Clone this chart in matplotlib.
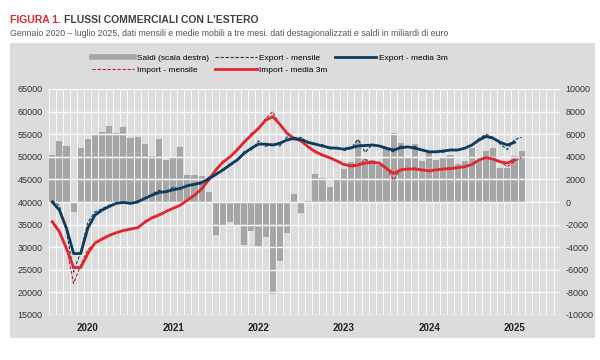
import numpy as np
import matplotlib
matplotlib.use("Agg")
import matplotlib.pyplot as plt
from matplotlib.patches import Rectangle
from matplotlib.lines import Line2D

plt.rcParams['font.family'] = ['Liberation Sans Narrow', 'Liberation Sans', 'DejaVu Sans']
plt.rcParams['axes.unicode_minus'] = False

# Monthly data, Jan 2020 - Jul 2025 (millions of euro)
years = ['2020', '2021', '2022', '2023', '2024', '2025']

saldi = [4200, 5400, 4950, -900, 4800, 5600, 6000, 6200, 6700, 6100, 6600, 5700,
         5750, 5100, 4100, 5600, 3700, 4000, 4900, 2400, 2400, 2300, 900, -2900,
         -2000, -1800, -2000, -3800, -2600, -3900, -3100, -8100, -5200, -2700, 700, -950,
         100, 2500, 2100, 1300, 2000, 2900, 3500, 5400, 3800, 3700, 3300, 4800,
         6100, 5200, 3900, 5100, 3600, 4300, 3750, 3900, 4200, 3400, 3600, 4750,
         3600, 4500, 4750, 3050, 3050, 4100, 4500]

export_m = [40300, 39200, 33500, 24500, 29000, 35500, 37800, 38500, 39300, 39600, 40100, 39500,
            40300, 40600, 41700, 42600, 42000, 43300, 42800, 43700, 44100, 44000, 45500, 46300,
            47000, 48600, 49100, 51200, 51500, 53500, 52300, 52900, 52400, 54400, 53700, 54300,
            53000, 52600, 52700, 51700, 52100, 51400, 51800, 53900, 51000, 52800, 52300, 51700,
            51100, 52400, 52000, 52300, 51500, 50900, 51300, 51000, 51700, 51400, 52000, 52500,
            54000, 55000, 54300, 52800, 51600, 53800, 54300]

export_3m = [40000, 38200, 34200, 28600, 28600, 34200, 37100, 38200, 39000, 39700, 39900, 39700,
             40000, 40800, 41500, 42100, 42300, 42700, 43000, 43600, 43900, 44300, 45100, 46100,
             47100, 48200, 49300, 50800, 51900, 52800, 52800, 52600, 53000, 53700, 54100, 53800,
             53200, 52800, 52400, 52000, 51900, 51700, 52000, 52400, 52500, 52600, 52400, 51900,
             51500, 52000, 52200, 51900, 51500, 51100, 51100, 51300, 51500, 51500, 51900, 52600,
             53700, 54500, 54100, 53200, 52600, 53200]

import_m = [36000, 33800, 30000, 22000, 26000, 29500, 30800, 32000, 32500, 33300, 33600, 34200,
            34100, 35800, 36400, 37300, 37800, 38700, 39200, 40500, 41600, 42700, 45300, 46800,
            49000, 49800, 51800, 53000, 55200, 56000, 58500, 60000, 57000, 55500, 53800, 53600,
            52000, 51300, 50200, 49900, 49000, 48400, 47700, 48000, 49400, 48600, 48800, 47600,
            44800, 47300, 47200, 47500, 47000, 46900, 47200, 47200, 47600, 47500, 48000, 48200,
            49400, 49900, 49300, 48800, 47800, 49000, 49900]

import_3m = [35600, 33400, 29700, 25500, 25500, 28600, 30900, 31800, 32600, 33200, 33700, 34000,
             34300, 35500, 36500, 37100, 37900, 38600, 39300, 40400, 41500, 42900, 44900, 47100,
             48800, 50000, 51500, 53300, 54800, 56300, 58100, 58900, 57200, 55200, 54100, 53500,
             52200, 51100, 50400, 49800, 49100, 48300, 48000, 48200, 48600, 48800, 48600, 47400,
             46300, 47100, 47300, 47300, 47100, 46900, 47100, 47300, 47400, 47600, 47800, 48300,
             49300, 49800, 49500, 48900, 48600, 49300]

navy = '#0f3b5f'
red = '#e0262f'
red_dash = '#c0202a'
bar_gray = '#a6a6a6'
panel = '#dcdcdc'

fig = plt.figure(figsize=(6, 3.6), dpi=100)
fig.patch.set_facecolor('white')

# grey panel behind legend and chart
fig.add_artist(Rectangle((10 / 600, 1 - 338 / 360), 585 / 600, 295 / 360,
                         transform=fig.transFigure, facecolor=panel,
                         edgecolor='none', zorder=-5))

t1 = fig.text(10 / 600, 1 - 20 / 360, 'FIGURA 1.', color=red, fontsize=7.5,
              fontweight='bold', va='center')
fig.canvas.draw()
bb = t1.get_window_extent()
fig.text((bb.x1 + 3) / 600, 1 - 20 / 360, "FLUSSI COMMERCIALI CON L'ESTERO", color='#404040',
         fontsize=7.5, fontweight='bold', va='center')
fig.text(10 / 600, 1 - 33 / 360,
         'Gennaio 2020 \u2013 luglio 2025, dati mensili e medie mobili a tre mesi. '
         'dati destagionalizzati e saldi in miliardi di euro',
         color='#555555', fontsize=6.3, va='center')

ax2 = fig.add_axes([48 / 600, 1 - 315 / 360, 512 / 600, 226 / 360])
ax = ax2.twinx()
ax2.set_facecolor(panel)
ax.patch.set_visible(False)

x = np.arange(len(saldi))

# grid
for v in range(15000, 65001, 5000):
    ax.axhline(v, color='white', lw=1.0, zorder=0)
for m in np.arange(-0.5, 72, 1):
    ax2.axvline(m, color='white', lw=0.7, alpha=0.85, zorder=0)

ax2.bar(x, saldi, width=0.85, color=bar_gray, zorder=1)
ax2.set_ylim(-10000, 10000)

ax.plot(x, export_m, color=navy, lw=0.8, ls=(0, (3, 1.5)), zorder=3)
ax.plot(x, import_m, color=red_dash, lw=0.8, ls=(0, (3, 1.5)), zorder=3)
ax.plot(x[:len(import_3m)], import_3m, color=red, lw=2.0, zorder=4)
ax.plot(x[:len(export_3m)], export_3m, color=navy, lw=2.0, zorder=5)
ax.set_ylim(15000, 65000)

ax.set_xlim(-0.6, 71.4)
ax2.set_xlim(-0.6, 71.4)

# lines on the left scale, balance on the right scale
ax.yaxis.tick_left()
ax2.yaxis.tick_right()
ax.set_yticks(range(15000, 65001, 5000))
ax2.set_yticks(range(-10000, 10001, 2000))
for a in (ax, ax2):
    a.tick_params(axis='y', length=0, labelsize=6.5, colors='#333333', pad=4)
    for s in a.spines.values():
        s.set_visible(False)

ax2.set_xticks([5 + 12 * i for i in range(len(years))])
ax2.set_xticklabels(years, fontsize=7, fontweight='bold', color='#222222')
ax2.tick_params(axis='x', length=0, pad=6)
ax.tick_params(axis='x', length=0)

handles = [
    Line2D([], [], color=bar_gray, lw=4),
    Line2D([], [], color=red_dash, lw=0.8, ls=(0, (3, 1.5))),
    Line2D([], [], color=navy, lw=0.8, ls=(0, (3, 1.5))),
    Line2D([], [], color=red, lw=2.0),
    Line2D([], [], color=navy, lw=2.0),
]
labels = ['Saldi (scala destra)', 'Import - mensile', 'Export - mensile',
          'Import - media 3m', 'Export - media 3m']
fig.legend(handles, labels, ncol=3, loc='center', bbox_to_anchor=(270 / 600, 1 - 64 / 360),
           frameon=False, fontsize=6.0, handlelength=5.0, handletextpad=0.3,
           columnspacing=0.8, labelspacing=0.45)

fig.savefig('out.png', dpi=100)
